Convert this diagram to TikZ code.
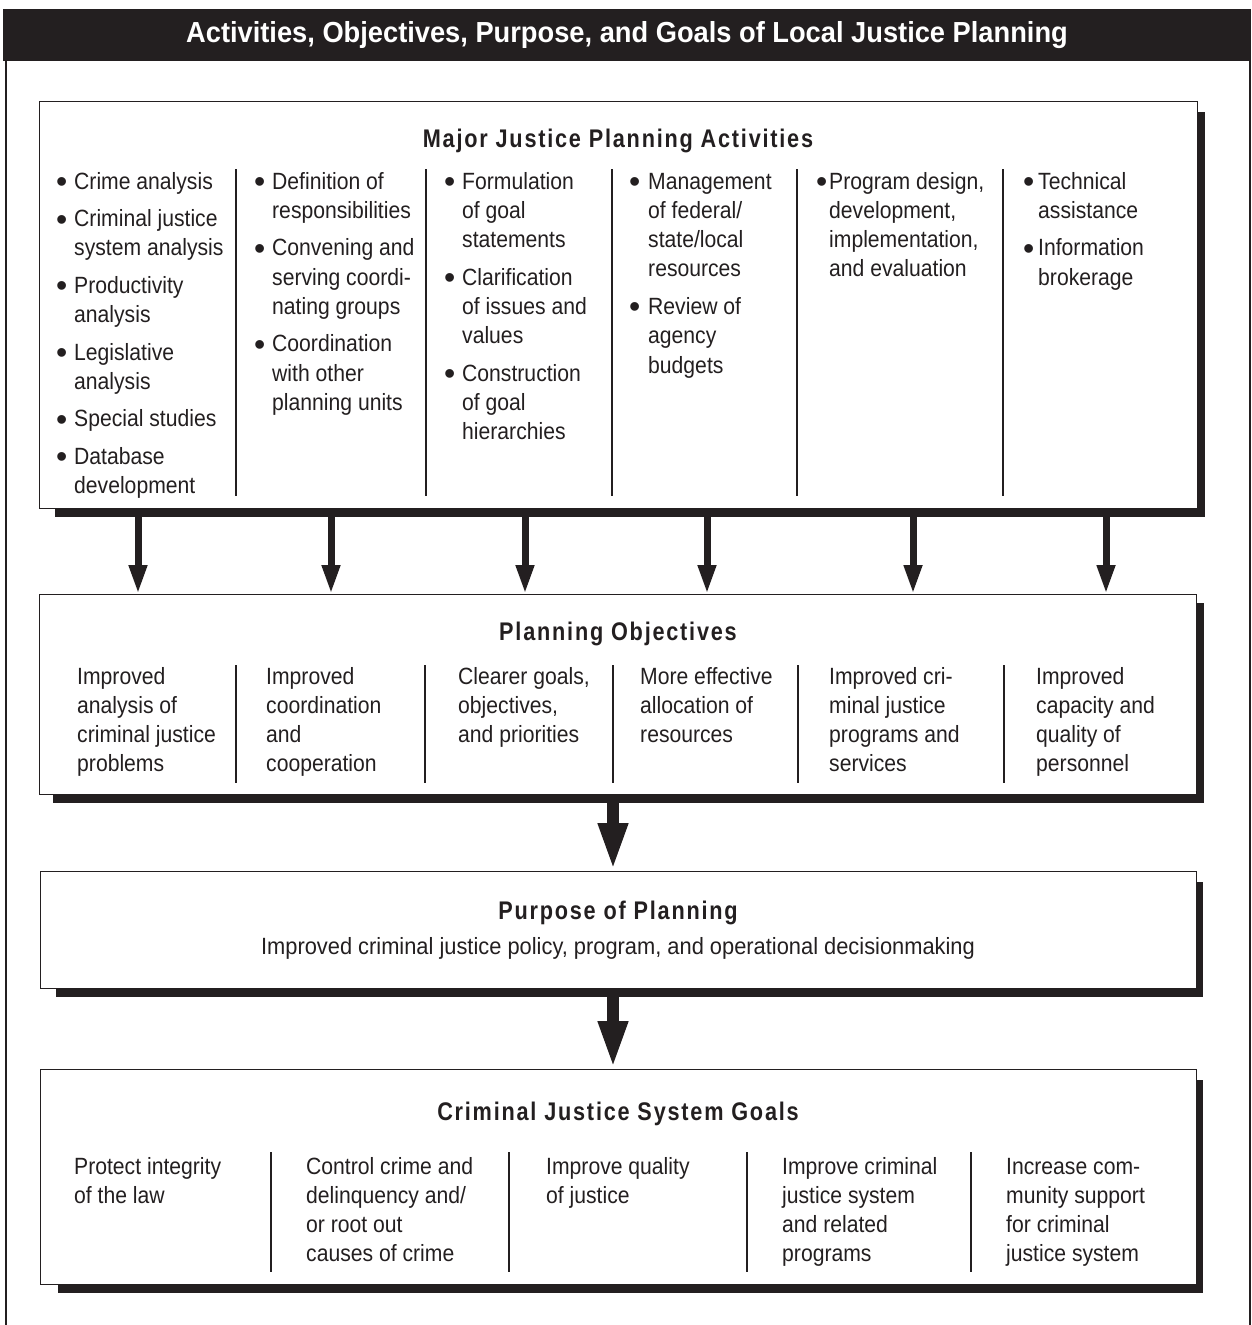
\documentclass[tikz,border=0pt]{standalone}
\usepackage{fontspec}
\setmainfont{Liberation Sans}[FakeStretch=0.9]
\newfontfamily\hdfont{Liberation Sans}[FakeStretch=0.85,LetterSpace=7]
\newfontfamily\ttlfont{Liberation Sans}[FakeStretch=0.94]
\newfontfamily\subfont{Liberation Sans}[FakeStretch=0.93]
\newfontfamily\bfnt{Liberation Sans}
\usetikzlibrary{arrows.meta}
\definecolor{ink}{HTML}{231F20}
\newlength\bg
\newcommand\bdot{{\bfnt\fontsize{32}{32}\selectfont\raisebox{-3.5pt}{•}}}
\newcommand\bul[1]{\hbox{\makebox[\bg][l]{\kern-1pt\bdot}#1}}
\newcommand\con[1]{\hbox{\kern\bg #1}}
\newcommand\lne[1]{\hbox{#1}}
\newcommand\igap{\vskip 8.2pt}
\newcommand\colbox[2]{\vtop{\setlength\bg{#1}#2}}
\tikzset{
 boxst/.style={draw=ink, line width=1.3pt, fill=white, inner sep=0pt, anchor=north west},
 shad/.style={fill=ink, draw=none, inner sep=0pt, anchor=north west},
 body/.style={inner sep=0pt, anchor=base west, text=ink, font=\fontsize{23.5}{29.3}\selectfont},
 head/.style={inner sep=0pt, anchor=base, text=ink, font=\hdfont\bfseries\fontsize{25.5}{28}\selectfont},
 sepl/.style={draw=ink, line width=1.2pt},
 thinarr/.style={draw=ink, line width=7pt, -{Triangle[length=29pt,width=17pt]}},
 bigarr/.style={draw=ink, line width=12pt, -{Triangle[length=48pt,width=27pt]}},
}
\begin{document}
\begin{tikzpicture}[x=1pt,y=-1pt]
\useasboundingbox (0,0) rectangle (1251,1325);
% outer frame
\fill[ink] (3,9) rectangle (1251,61);
\draw[ink, line width=1.5pt] (6,61) -- (6,1325);
\draw[ink, line width=1.5pt] (1250,61) -- (1250,1325);
\node[text=white, inner sep=0pt, anchor=base, font=\ttlfont\bfseries\fontsize{29}{32}\selectfont] (title) at (627,42) {Activities, Objectives, Purpose, and Goals of Local Justice Planning};

% panels
\node[shad, minimum width=1150pt, minimum height=405pt] (sh1) at (55,112) {};
\node[boxst, minimum width=1158pt, minimum height=407pt] (b1) at (39,101) {};
\node[shad, minimum width=1151pt, minimum height=200pt] (sh2) at (53,603) {};
\node[boxst, minimum width=1157pt, minimum height=200pt] (b2) at (39,594) {};
\node[shad, minimum width=1147pt, minimum height=115pt] (sh3) at (56,882) {};
\node[boxst, minimum width=1156pt, minimum height=117pt] (b3) at (40,871) {};
\node[shad, minimum width=1145pt, minimum height=213pt] (sh4) at (58,1080) {};
\node[boxst, minimum width=1156pt, minimum height=215pt] (b4) at (40,1069) {};

% box 1
\node[head] (h1) at (618,147) {Major Justice Planning Activities};
\foreach \x in {236,426,612,797,1003} \draw[sepl] (\x,169) -- (\x,496);
\node[body] (c11) at (57,189) {\colbox{17pt}{\bul{Crime analysis}\igap\bul{Criminal justice}\con{system analysis}\igap\bul{Productivity}\con{analysis}\igap\bul{Legislative}\con{analysis}\igap\bul{Special studies}\igap\bul{Database}\con{development}}};
\node[body] (c12) at (255,189) {\colbox{17pt}{\bul{Definition of}\con{responsibilities}\igap\bul{Convening and}\con{serving coordi-}\con{nating groups}\igap\bul{Coordination}\con{with other}\con{planning units}}};
\node[body] (c13) at (445,189) {\colbox{17pt}{\bul{Formulation}\con{of goal}\con{statements}\igap\bul{Clarification}\con{of issues and}\con{values}\igap\bul{Construction}\con{of goal}\con{hierarchies}}};
\node[body] (c14) at (630,189) {\colbox{18pt}{\bul{Management}\con{of federal/}\con{state/local}\con{resources}\igap\bul{Review of}\con{agency}\con{budgets}}};
\node[body] (c15) at (817,189) {\colbox{12pt}{\bul{Program design,}\con{development,}\con{implementation,}\con{and evaluation}}};
\node[body] (c16) at (1024,189) {\colbox{14pt}{\bul{Technical}\con{assistance}\igap\bul{Information}\con{brokerage}}};

% arrows 1 -> 2
\foreach \i/\x in {1/138,2/331,3/525,4/707,5/913,6/1106} {
  \coordinate (a\i) at (\x,0);
  \draw[thinarr] (sh1.south -| a\i) -- (b2.north -| a\i);
}

% box 2
\node[head] (h2) at (618,640) {Planning Objectives};
\foreach \x in {236,425,613,798,1004} \draw[sepl] (\x,665) -- (\x,783);
\node[body] (c21) at (77,684) {\colbox{0pt}{\lne{Improved}\lne{analysis of}\lne{criminal justice}\lne{problems}}};
\node[body] (c22) at (266,684) {\colbox{0pt}{\lne{Improved}\lne{coordination}\lne{and}\lne{cooperation}}};
\node[body] (c23) at (458,684) {\colbox{0pt}{\lne{Clearer goals,}\lne{objectives,}\lne{and priorities}}};
\node[body] (c24) at (640,684) {\colbox{0pt}{\lne{More effective}\lne{allocation of}\lne{resources}}};
\node[body] (c25) at (829,684) {\colbox{0pt}{\lne{Improved cri-}\lne{minal justice}\lne{programs and}\lne{services}}};
\node[body] (c26) at (1036,684) {\colbox{0pt}{\lne{Improved}\lne{capacity and}\lne{quality of}\lne{personnel}}};

% arrows 2 -> 3 -> 4
\coordinate (m) at (613,0);
\draw[bigarr] (sh2.south -| m) -- (b3.north -| m);
\draw[bigarr] (sh3.south -| m) -- (b4.north -| m);

% box 3
\node[head] (h3) at (618,919) {Purpose of Planning};
\node[body, anchor=base, font=\subfont\fontsize{23.5}{29.3}\selectfont] (sub) at (618,954) {Improved criminal justice policy, program, and operational decisionmaking};

% box 4
\node[head] (h4) at (618,1120) {Criminal Justice System Goals};
\foreach \x in {271,509,747,971} \draw[sepl] (\x,1152) -- (\x,1272);
\node[body] (c41) at (74,1174) {\colbox{0pt}{\lne{Protect integrity}\lne{of the law}}};
\node[body] (c42) at (306,1174) {\colbox{0pt}{\lne{Control crime and}\lne{delinquency and/}\lne{or root out}\lne{causes of crime}}};
\node[body] (c43) at (546,1174) {\colbox{0pt}{\lne{Improve quality}\lne{of justice}}};
\node[body] (c44) at (782,1174) {\colbox{0pt}{\lne{Improve criminal}\lne{justice system}\lne{and related}\lne{programs}}};
\node[body] (c45) at (1006,1174) {\colbox{0pt}{\lne{Increase com-}\lne{munity support}\lne{for criminal}\lne{justice system}}};
\end{tikzpicture}
\end{document}
